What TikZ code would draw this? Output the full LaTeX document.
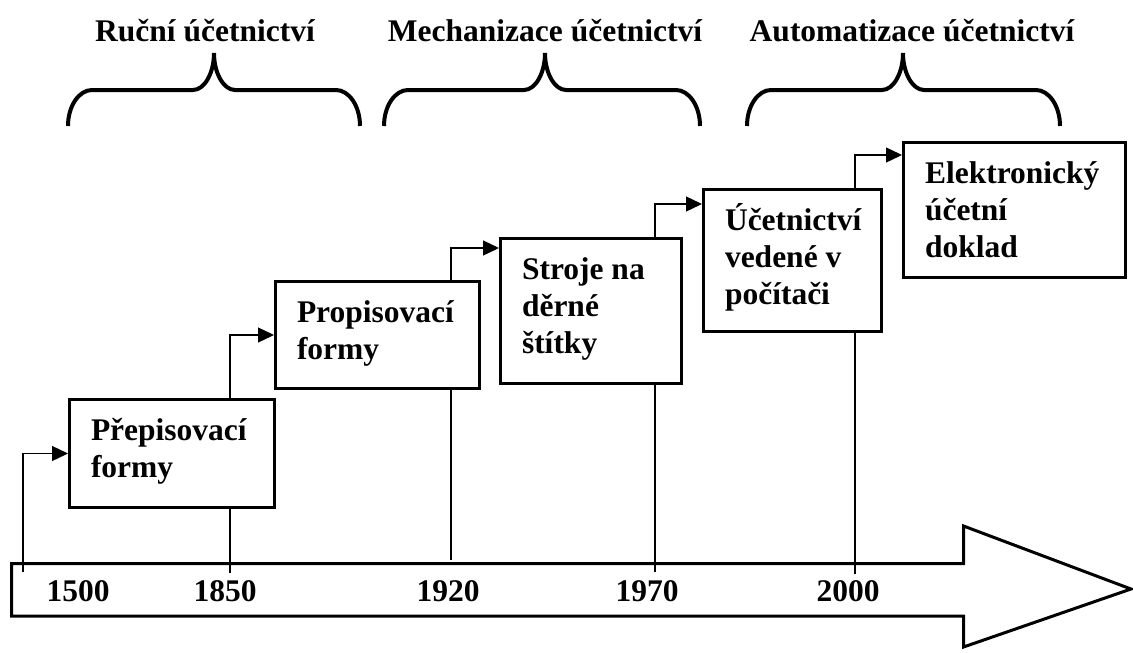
\documentclass[tikz,border=0pt]{standalone}
\usepackage{fontspec}
\setmainfont{Liberation Serif}
\usetikzlibrary{arrows.meta,calc}

% text block of a stage box: fixed size, first baseline 30pt below its top
\newcommand\stagebody[3]{%
  \begin{minipage}[t][#2][t]{#1}\raggedright\rule{0pt}{30pt}#3\end{minipage}}

% curly brace over one period: left end, tip, right end
\newcommand\periodbrace[3]{%
  \draw[brace] (#1,126) .. controls (#1,106) and (#1+11,90) .. (#1+24,90)
    -- (#2-21,90) .. controls (#2-9.5,90) and (#2,73) .. (#2,53)
    .. controls (#2,73) and (#2+9.5,90) .. (#2+21,90)
    -- (#3-24,90) .. controls (#3-11,90) and (#3,106) .. (#3,126);}

\tikzset{
  lbl/.style={font=\fontsize{31.5}{37}\selectfont\bfseries, inner sep=0pt},
  stage/.style={lbl, draw, line width=3pt, fill=white, anchor=north west,
    inner xsep=21.5pt, inner ysep=10.5pt, outer sep=1.5pt},
  year/.style={lbl, anchor=base},
  period/.style={lbl, anchor=base},
  brace/.style={line width=4pt},
  axis/.style={line width=3pt, line join=miter},
  link/.style={line width=1.3pt},
  conn/.style={link, -{Triangle[length=16pt,width=15pt]}},
}

\begin{document}
\begin{tikzpicture}[x=1pt,y=-1pt]
\useasboundingbox (0,0) rectangle (1133,653);

% period titles and braces
\node[period] (ruc)  at (205,41) {Ruční účetnictví};
\node[period] (mech) at (545,41) {Mechanizace účetnictví};
\node[period] (aut)  at (912,41) {Automatizace účetnictví};
\periodbrace{68}{214}{360}
\periodbrace{384}{545}{700}
\periodbrace{747}{903}{1060}

% time axis arrow
\draw[axis] (11.5,563.5) -- (963.5,563.5) -- (963.5,526) -- (1131,589)
  -- (963.5,647) -- (963.5,616) -- (11.5,616) -- cycle;

% years
\node[year] (y1500) at (78,601)  {1500};
\node[year] (y1850) at (225,601) {1850};
\node[year] (y1920) at (448,601) {1920};
\node[year] (y1970) at (647,601) {1970};
\node[year] (y2000) at (848,601) {2000};

% tick ends on the axis
\coordinate (t1500) at (23,572);
\coordinate (t1850) at (230,573);
\coordinate (t1920) at (451,560);
\coordinate (t1970) at (655,572);
\coordinate (t2000) at (855,574);

% stages
\node[stage] (b1) at (68,398)  {\stagebody{162pt}{87pt}{Přepisovací\\formy}};
\node[stage] (b2) at (274,280) {\stagebody{161pt}{86pt}{Propisovací\\formy}};
\node[stage] (b3) at (499,237) {\stagebody{138pt}{124pt}{Stroje na\\děrné\\štítky}};
\node[stage] (b4) at (702,188) {\stagebody{135pt}{121pt}{Účetnictví\\vedené v\\počítači}};
\node[stage] (b5) at (902,141) {\stagebody{179pt}{114pt}{Elektronický\\účetní\\doklad}};

% connectors
\draw[conn] (t1500) |- (b1);
\draw[link] (t1850) -- (t1850 |- b1.south);
\draw[conn] (t1850 |- b1.north) |- (b2);
\draw[link] (t1920) -- (t1920 |- b2.south);
\draw[conn] (t1920 |- b2.north) |- ($(b3.north west)+(0,11)$);
\draw[link] (t1970) -- (t1970 |- b3.south);
\draw[conn] (t1970 |- b3.north) |- ($(b4.north west)+(0,16)$);
\draw[link] (t2000) -- (t2000 |- b4.south);
\draw[conn] (t2000 |- b4.north) |- ($(b5.north west)+(0,14)$);
\end{tikzpicture}
\end{document}
